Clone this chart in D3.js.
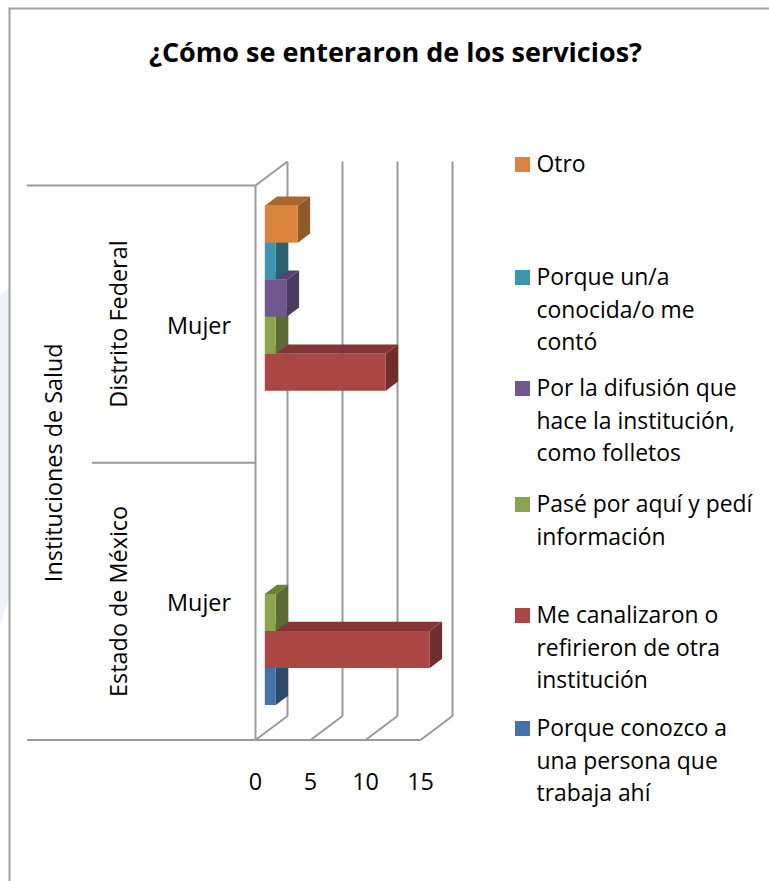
<!DOCTYPE html>
<html><head><meta charset="utf-8">
<style>html,body{margin:0;padding:0;background:#fff}svg{display:block}text{font-family:"Open Sans",Lato,sans-serif;fill:#000}</style>
<script src="https://cdn.jsdelivr.net/npm/d3@7/dist/d3.min.js"></script>
</head><body><svg id="c" width="769" height="881"></svg>
<script>
const title = "¿Cómo se enteraron de los servicios?";
const groups = ["Distrito Federal", "Estado de México"];
const sexLabels = ["Mujer", "Mujer"];
const outerLabel = "Instituciones de Salud";
const series = ["Otro", "Porque un/a conocida/o me contó", "Por la difusión que hace la institución, como folletos", "Pasé por aquí y pedí información", "Me canalizaron o refirieron de otra institución", "Porque conozco a una persona que trabaja ahí"];
const colors = ["#DB843D", "#3D96AE", "#71588F", "#89A54E", "#AA4643", "#4572A7"];
const sideColors = ["#8F5828", "#286272", "#4A3A5E", "#5A6C33", "#6F2E2C", "#2D4A6D"];
const topColors = ["#A9662F", "#2F7386", "#57446E", "#6A7F3C", "#833634", "#355880"];
const valuesDF = [3, 1, 2, 1, 11, 0];
const valuesMX = [0, 0, 0, 1, 15, 1];
const allValues = [valuesDF, valuesMX];
const ticks = [0, 5, 10, 15];
const legendLines = [["Otro"], ["Porque un/a", "conocida/o me", "contó"], ["Por la difusión que", "hace la institución,", "como folletos"], ["Pasé por aquí y pedí", "información"], ["Me canalizaron o", "refirieron de otra", "institución"], ["Porque conozco a", "una persona que", "trabaja ahí"]];
const legendY = [164, 277, 388, 504, 615, 728];

const svg = d3.select("#c");
const x = d3.scaleLinear().domain([0, 15]).range([255.5, 420.5]);
const yG = d3.scaleBand().domain(groups).range([185.5, 740]);
const yS = d3.scaleBand().domain(series).range([0, yG.bandwidth()]).paddingOuter(0.745).paddingInner(0);
const wallDx = 32, wallDy = -24;
const barDx = 12.3, barDy = -9.3;
const insetX = 9.3, insetY = -7.4;
const grey = "#9a9a9a";
const axisFs = 23.4, legendFs = 22.9;

// faint page watermark at the left edge
svg.append("path").attr("d", "M0 296L8.5 288V600L0 625Z").attr("fill", "#eff3f9");

// frame
svg.append("path").attr("d", "M9.5 881V8.5H769").attr("fill", "none").attr("stroke", "#a0a0a0").attr("stroke-width", 2);

svg.append("text").attr("x", 395.5).attr("y", 61.5).attr("text-anchor", "middle").attr("font-size", 27).attr("font-weight", 700).text(title);

// walls and gridlines
const [plotTop, plotBottom] = yG.range();
const wall = svg.append("g").attr("fill", "none").attr("stroke", grey).attr("stroke-width", 2);
ticks.forEach(t => {
  wall.append("line").attr("x1", x(t) + wallDx).attr("x2", x(t) + wallDx).attr("y1", plotTop + wallDy).attr("y2", plotBottom + wallDy);
  wall.append("line").attr("x1", x(t)).attr("x2", x(t) + wallDx).attr("y1", plotBottom).attr("y2", plotBottom + wallDy);
});
wall.append("line").attr("x1", x(0)).attr("x2", x(0)).attr("y1", plotTop).attr("y2", plotBottom);
wall.append("line").attr("x1", x(0)).attr("x2", x(0) + wallDx).attr("y1", plotTop).attr("y2", plotTop + wallDy);
wall.append("line").attr("x1", x(0)).attr("x2", x(15)).attr("y1", plotBottom).attr("y2", plotBottom);
// hierarchical axis rules
[[27, plotTop], [92, yG(groups[1])], [27, plotBottom]].forEach(([x0, yy]) => {
  wall.append("line").attr("x1", x0).attr("x2", x(0)).attr("y1", yy).attr("y2", yy);
});

// bars, painted bottom-up so an upper bar hides the top face of the one below it
const bars = svg.append("g");
groups.slice().reverse().forEach(g => {
  const gi = groups.indexOf(g);
  series.slice().reverse().forEach(s => {
    const si = series.indexOf(s);
    const v = allValues[gi][si];
    if (!v) return;
    const x0 = x(0) + insetX, x1 = x(v) + insetX;
    const y0 = yG(g) + yS(s) + insetY, y1 = y0 + yS.bandwidth();
    bars.append("path").attr("d", `M${x1} ${y0}L${x1 + barDx} ${y0 + barDy}V${y1 + barDy}L${x1} ${y1}Z`).attr("fill", sideColors[si]);
    bars.append("path").attr("d", `M${x0} ${y0}L${x0 + barDx} ${y0 + barDy}H${x1 + barDx}L${x1} ${y0}Z`).attr("fill", topColors[si]);
    bars.append("rect").attr("x", x0).attr("y", y0).attr("width", x1 - x0).attr("height", y1 - y0).attr("fill", colors[si]);
  });
});

// tick labels
ticks.forEach(t => {
  svg.append("text").attr("x", x(t)).attr("y", 790).attr("text-anchor", "middle").attr("font-size", axisFs).text(t);
});

// category labels
const vText = (xx, yy, str) => svg.append("text").attr("transform", `translate(${xx},${yy}) rotate(-90)`).attr("text-anchor", "middle").attr("font-size", axisFs).text(str);
vText(127, yG(groups[0]) + yG.bandwidth() / 2, groups[0]);
vText(127, yG(groups[1]) + yG.bandwidth() / 2, groups[1]);
vText(62, (plotTop + plotBottom) / 2, outerLabel);
svg.append("text").attr("x", 199).attr("y", 334).attr("text-anchor", "middle").attr("font-size", axisFs).text(sexLabels[0]);
svg.append("text").attr("x", 199).attr("y", 611).attr("text-anchor", "middle").attr("font-size", axisFs).text(sexLabels[1]);

// legend
series.forEach((s, i) => {
  const cy = legendY[i];
  svg.append("rect").attr("x", 515).attr("y", cy - 7).attr("width", 15).attr("height", 15).attr("fill", colors[i]);
  legendLines[i].forEach((ln, k) => {
    svg.append("text").attr("x", 536.5).attr("y", cy + 8 + k * 32.5).attr("font-size", legendFs).text(ln);
  });
});
</script></body></html>
